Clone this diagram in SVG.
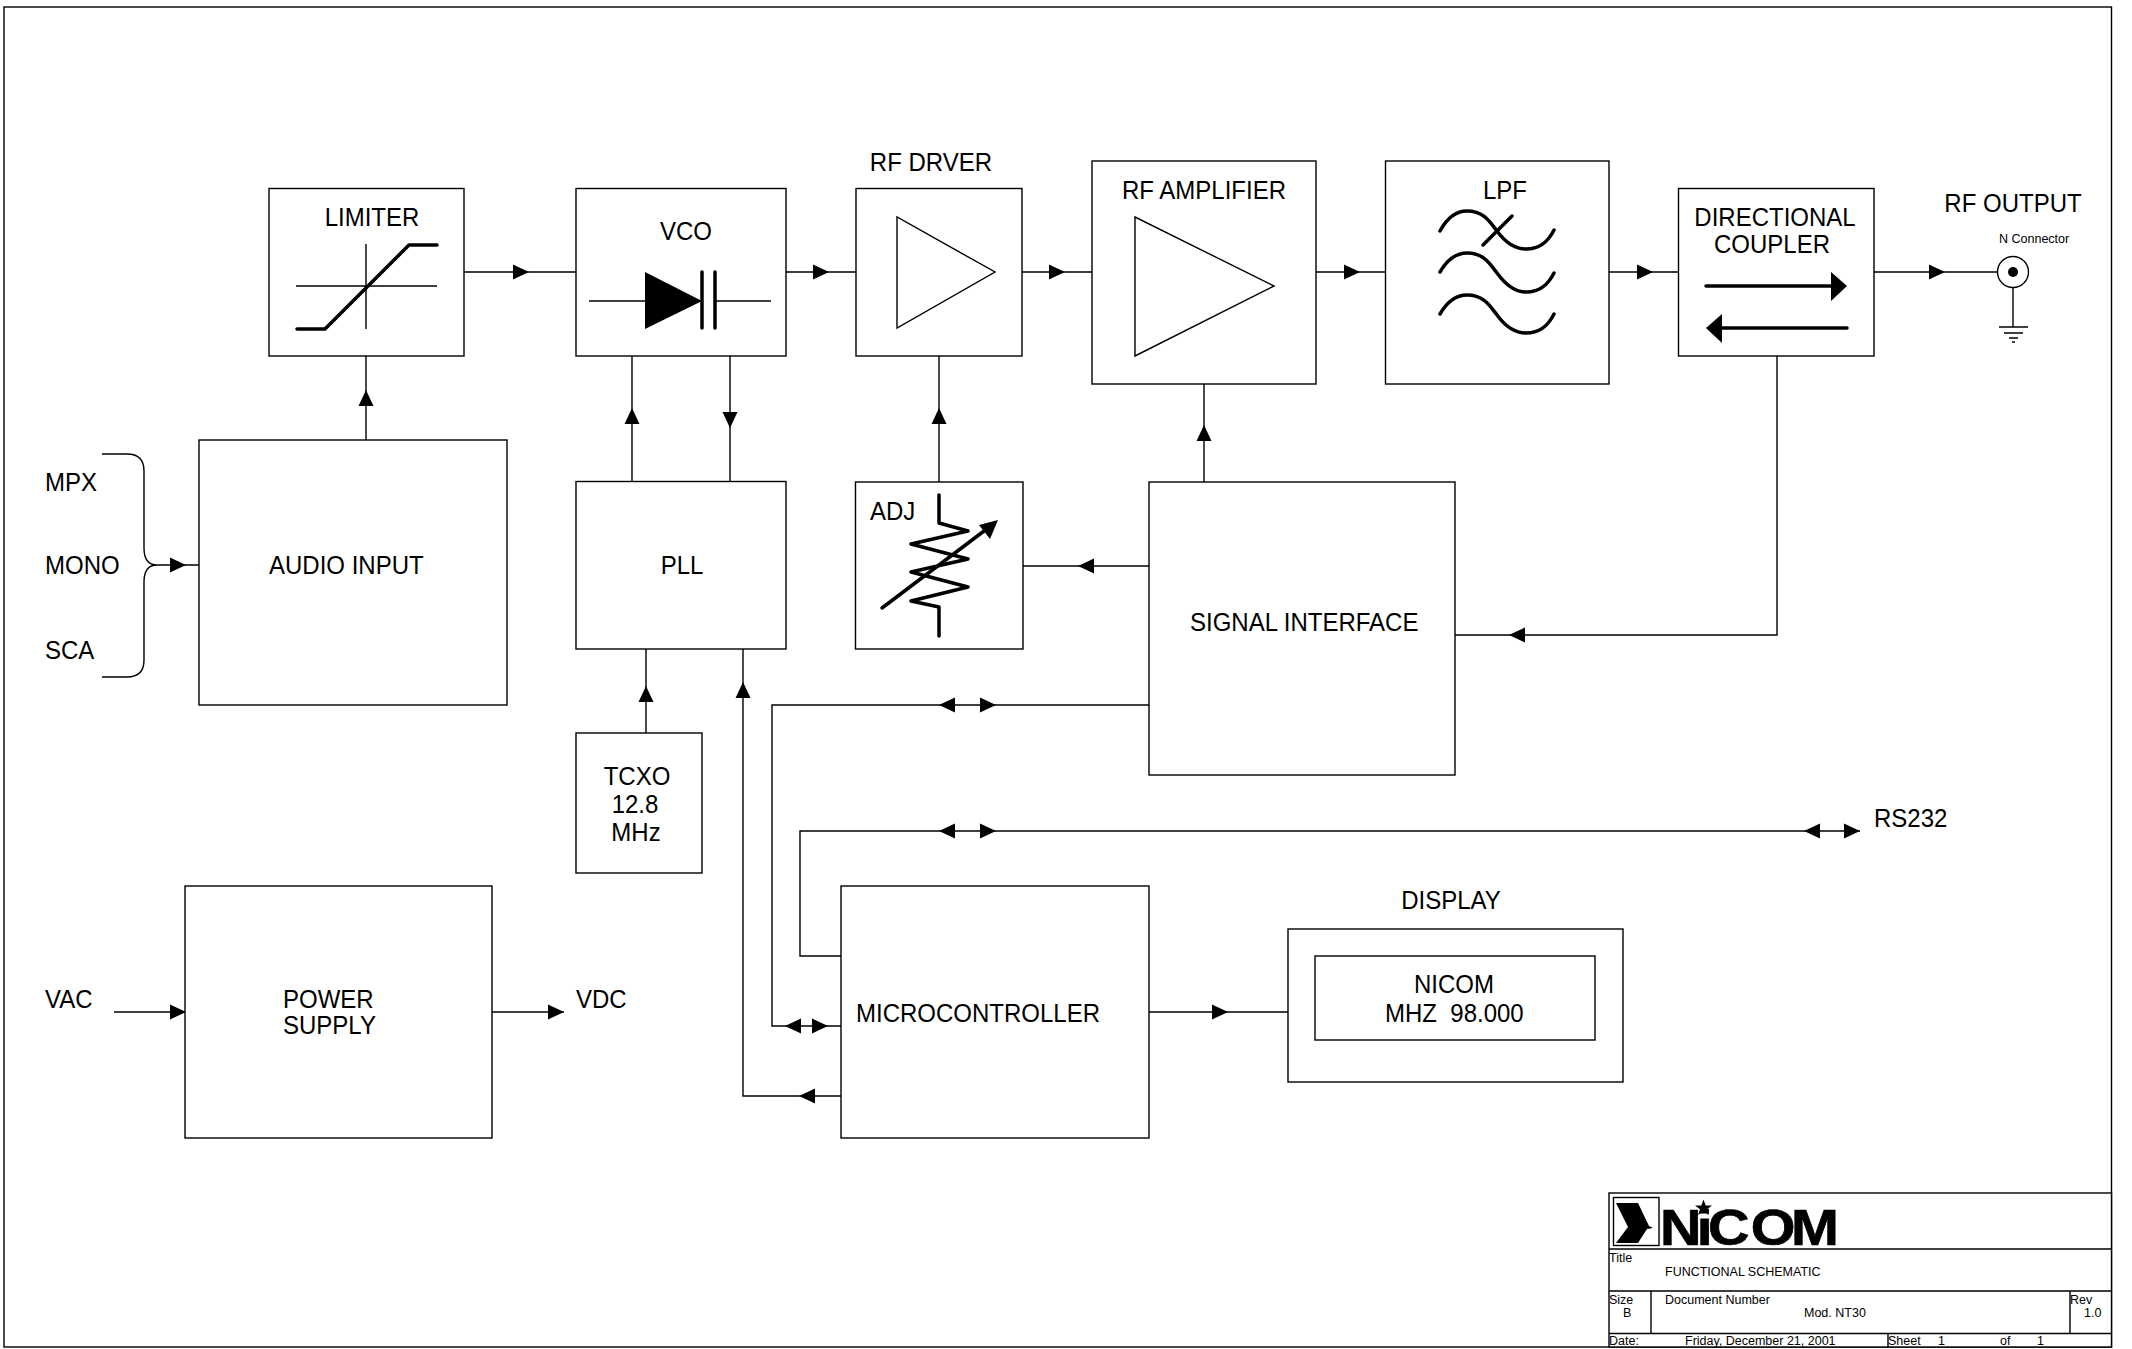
<svg xmlns="http://www.w3.org/2000/svg" width="2132" height="1349" viewBox="0 0 2132 1349">
<style>
text{font-family:"Liberation Sans",Arial,sans-serif;font-size:25px;fill:#000;white-space:pre;transform-box:fill-box;transform-origin:0 0;transform:scaleX(.96)}
.m{text-anchor:middle;transform-origin:50% 0}
text.s{font-size:12.5px;transform:none}
.b{fill:#fff;stroke:#000;stroke-width:1.4}
.l{fill:none;stroke:#000;stroke-width:1.4}
.t{fill:none;stroke:#000;stroke-width:3.5;stroke-linejoin:round;stroke-linecap:round}
.f{fill:#000;stroke:none}
</style>
<defs>
<polygon id="ah" points="0,0 -16,-7.5 -16,7.5" fill="#000"/>
</defs>
<rect width="2132" height="1349" fill="#fff"/>
<rect id="border" class="l" x="4" y="7" width="2107.500" height="1340"/>

<g id="connectors">
<path class="l" d="M464 272H576M786 272H856M1022 272H1092M1316 272H1385M1608 272H1678M1874 272H1998"/>
<path class="l" d="M366 356V440M632 356V481M730 356V481M939 356V482M1204 384V482"/>
<path class="l" d="M1777 356V635H1455M1023 566H1149M646 649V733M743 649V1096H841"/>
<path class="l" d="M1149 705H772V1026H841M841 956H800V831H1860M1149 1012H1288M114 1012H185M492 1012H564"/>
<path class="l" d="M102 454H127C138 454 144 460 144 471V548C144 559 148 565 157 565H199H157C148 565 144 571 144 582V660C144 671 138 677 127 677H102"/>
<path class="l" d="M2013 288V327"/>
<use href="#ah" transform="translate(186,565)"/>
<use href="#ah" transform="translate(529,272)"/>
<use href="#ah" transform="translate(829,272)"/>
<use href="#ah" transform="translate(1065,272)"/>
<use href="#ah" transform="translate(1360,272)"/>
<use href="#ah" transform="translate(1653,272)"/>
<use href="#ah" transform="translate(1945,272)"/>
<use href="#ah" transform="translate(366,390) rotate(-90)"/>
<use href="#ah" transform="translate(632,408) rotate(-90)"/>
<use href="#ah" transform="translate(730,428) rotate(90)"/>
<use href="#ah" transform="translate(939,408) rotate(-90)"/>
<use href="#ah" transform="translate(1204,425) rotate(-90)"/>
<use href="#ah" transform="translate(1078,566) rotate(180)"/>
<use href="#ah" transform="translate(1509,635) rotate(180)"/>
<use href="#ah" transform="translate(646,686) rotate(-90)"/>
<use href="#ah" transform="translate(743,682) rotate(-90)"/>
<use href="#ah" transform="translate(939,705) rotate(180)"/>
<use href="#ah" transform="translate(996,705)"/>
<use href="#ah" transform="translate(939,831) rotate(180)"/>
<use href="#ah" transform="translate(996,831)"/>
<use href="#ah" transform="translate(1804,831) rotate(180)"/>
<use href="#ah" transform="translate(1860,831)"/>
<use href="#ah" transform="translate(785,1026) rotate(180)"/>
<use href="#ah" transform="translate(828,1026)"/>
<use href="#ah" transform="translate(799,1096) rotate(180)"/>
<use href="#ah" transform="translate(1228,1012)"/>
<use href="#ah" transform="translate(186,1012)"/>
<use href="#ah" transform="translate(564,1012)"/>
</g>

<g id="inputs">
<text x="45" y="491">MPX</text>
<text x="45" y="574">MONO</text>
<text x="45" y="659">SCA</text>
<text x="45" y="1008">VAC</text>
<text x="576" y="1008">VDC</text>
<text x="1874" y="827">RS232</text>
</g>

<g id="limiter">
<rect class="b" x="269" y="188.500" width="195" height="167.500"/>
<text class="m" x="372" y="226">LIMITER</text>
<path class="l" d="M296 286H437M366 244V329"/>
<path class="t" d="M297 329H325L409 245H437"/>
</g>
<g id="vco">
<rect class="b" x="576" y="188.500" width="210" height="167.500"/>
<text class="m" x="686" y="240">VCO</text>
<path class="l" d="M589 301H646M715 301H771"/>
<polygon class="f" points="645,272 645,329 702,301"/>
<path class="t" d="M702 272V328M715 272V328"/>
</g>
<g id="rf-driver">
<text class="m" x="931" y="171">RF DRVER</text>
<rect class="b" x="856" y="188.500" width="166" height="167.500"/>
<polygon class="l" points="897,217 897,328 995,272"/>
</g>
<g id="rf-amplifier">
<rect class="b" x="1092" y="161" width="224" height="223"/>
<text class="m" x="1204" y="199">RF AMPLIFIER</text>
<polygon class="l" points="1135,217 1135,356 1274,286"/>
</g>
<g id="lpf">
<rect class="b" x="1385.500" y="161" width="223.500" height="223"/>
<text class="m" x="1505" y="199">LPF</text>
<path class="t" d="M1440 231C1447 218 1456 211 1467 211C1484 211 1490 222 1497 231C1505 242 1514 249 1526 249C1540 249 1548 242 1554 230"/>
<path class="t" d="M1440 272C1447 260 1456 253 1467 253C1484 253 1490 264 1497 273C1505 284 1514 292 1526 292C1540 292 1548 285 1554 273"/>
<path class="t" d="M1440 314C1447 302 1456 295 1467 295C1484 295 1490 306 1497 315C1505 326 1514 333 1526 333C1540 333 1548 326 1554 314"/>
<path class="t" d="M1512 216L1483 245"/>
</g>
<g id="directional-coupler">
<rect class="b" x="1678.500" y="188.500" width="195.500" height="167.500"/>
<text class="m" x="1775" y="226">DIRECTIONAL</text>
<text class="m" x="1772" y="253">COUPLER</text>
<path class="t" d="M1706 286H1835M1847 328H1718"/>
<polygon class="f" points="1847,286 1831,272 1831,301"/>
<polygon class="f" points="1706,328 1722,314 1722,343"/>
</g>
<g id="rf-output">
<text class="m" x="2013" y="212">RF OUTPUT</text>
<text class="s" x="1999" y="243">N Connector</text>
<circle class="b" cx="2013" cy="272" r="15.500"/>
<circle class="f" cx="2013" cy="272" r="5"/>
<path class="l" d="M1999 327H2028M2004 333H2023M2009 338H2018M2012 342H2015"/>
</g>
<g id="audio-input">
<rect class="b" x="199" y="440" width="308" height="265"/>
<text x="269" y="574">AUDIO INPUT</text>
</g>
<g id="pll">
<rect class="b" x="576" y="481.500" width="210" height="167.500"/>
<text class="m" x="682" y="574">PLL</text>
</g>
<g id="adj">
<rect class="b" x="855.500" y="482" width="167.500" height="167"/>
<text x="870" y="520">ADJ</text>
<path class="t" d="M939 495V523L968 531L911 544L968 559L911 572L968 587L911 601L939 607V636"/>
<path class="t" d="M882 608L988 528"/>
<polygon class="f" points="998,520 979,525 990,539"/>
</g>
<g id="signal-interface">
<rect class="b" x="1149" y="482" width="306" height="293"/>
<text x="1190" y="631">SIGNAL INTERFACE</text>
</g>
<g id="tcxo">
<rect class="b" x="576" y="733" width="126" height="140"/>
<text class="m" x="637" y="785">TCXO</text>
<text class="m" x="635" y="813">12.8</text>
<text class="m" x="636" y="841">MHz</text>
</g>
<g id="power-supply">
<rect class="b" x="185" y="886" width="307" height="252"/>
<text x="283" y="1008">POWER</text>
<text x="283" y="1034">SUPPLY</text>
</g>
<g id="microcontroller">
<rect class="b" x="841" y="886" width="308" height="252"/>
<text x="856" y="1022">MICROCONTROLLER</text>
</g>
<g id="display">
<text class="m" x="1451" y="909">DISPLAY</text>
<rect class="b" x="1288" y="929" width="335" height="153"/>
<rect class="b" x="1315" y="956" width="280" height="84"/>
<text class="m" x="1454" y="993">NICOM</text>
<text x="1385" y="1022">MHZ  98.000</text>
</g>

<g id="title-block">
<rect class="b" x="1609" y="1193" width="502.500" height="154"/>
<path class="l" d="M1609 1249H2111M1609 1291H2111M1609 1333.500H2111M1651 1291V1333M2070 1291V1333M1888 1333V1347"/>
<rect class="l" x="1613.500" y="1197.500" width="45.500" height="48"/>
<polygon class="f" points="1616,1203 1638,1203 1649,1226 1653,1228 1647,1229 1638,1243 1616,1243 1628,1227"/>
<text style="font-size:50px;font-weight:bold;stroke:#000;stroke-width:.7;transform:translate(1660px,1245px) scale(1.15,1);transform-origin:0 0;transform-box:view-box" x="0 32 41.800 79 114" y="0">NiCOM</text>
<rect x="1698" y="1213.500" width="12" height="5" fill="#fff"/>
<polygon class="f" points="1703.500,1199.500 1705.700,1205.500 1712,1205.500 1707,1209.300 1709,1215 1703.500,1211.500 1698,1215 1700,1209.300 1695,1205.500 1701.300,1205.500"/>
<text class="s" x="1609" y="1262">Title</text>
<text class="s" x="1665" y="1276">FUNCTIONAL SCHEMATIC</text>
<text class="s" x="1609" y="1304">Size</text>
<text class="s" x="1623" y="1317">B</text>
<text class="s" x="1665" y="1304">Document Number</text>
<text class="s" x="1804" y="1317">Mod. NT30</text>
<text class="s" x="2070" y="1304">Rev</text>
<text class="s" x="2084" y="1317">1.0</text>
<text class="s" x="1609" y="1345">Date:</text>
<text class="s" x="1685" y="1345">Friday, December 21, 2001</text>
<text class="s" x="1888" y="1345">Sheet</text>
<text class="s" x="1938" y="1345">1</text>
<text class="s" x="2000" y="1345">of</text>
<text class="s" x="2037" y="1345">1</text>
</g>
</svg>
